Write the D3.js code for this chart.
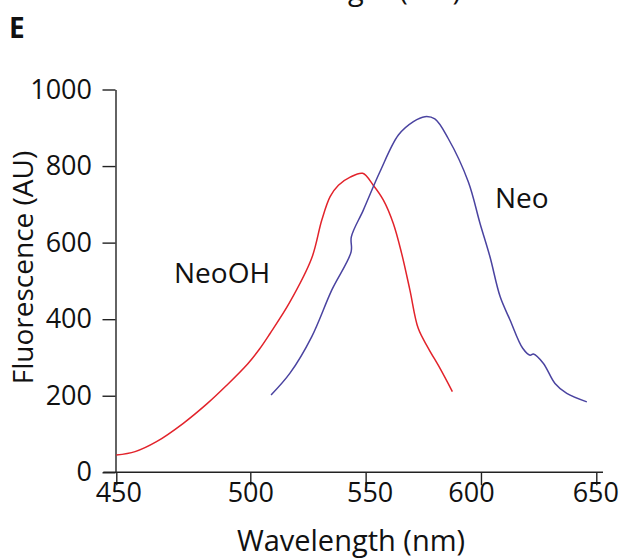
<!DOCTYPE html>
<html>
<head>
<meta charset="utf-8">
<script src="https://cdn.jsdelivr.net/npm/d3@7"></script>
<style>
  html, body { margin: 0; padding: 0; background: #fff; }
  svg { display: block; }
  text { font-family: "Open Sans", "Noto Sans", sans-serif; fill: #111; }
</style>
</head>
<body>
<svg id="chart" width="624" height="560"></svg>
<script>
// ---- data ----
const xTicks = [450, 500, 550, 600, 650];
const yTicks = [0, 200, 400, 600, 800, 1000];

const neoOHWavelength = [450, 457, 465, 475, 484, 491, 499, 504, 508.5, 517, 526.6, 531, 534.6, 538.2, 543.3, 548.7, 553.3, 557.7, 562, 565.6, 569.2, 572.8, 577.2, 582.2, 587.6];
const neoOHFluor      = [45, 54, 80, 128, 180, 226, 283, 322, 362, 443, 559, 659, 720, 750, 771, 781, 750, 711, 650, 572, 476, 376, 324, 272, 211];

const neoWavelength = [509, 517.2, 526.6, 535.3, 543.7, 543.8, 549, 556.2, 564.2, 570.7, 575.7, 580, 585.8, 594.5, 599.6, 603.9, 608.3, 612.6, 618.1, 621.3, 622.7, 627, 632.1, 637.2, 645.9];
const neoFluor      = [202, 259, 354, 476, 576, 615, 685, 785, 881, 916, 929, 923, 872, 759, 650, 563, 459, 398, 324, 306, 309, 285, 232, 206, 184];

const seriesNames = ["NeoOH", "Neo"];

// ---- layout ----
const svg = d3.select("#chart");
const axisColor = "#222";
const tickLen = 13;

// the printed axis is slightly non-uniform between 450 and 500
const x = d3.scaleLinear().domain([450, 500, 650]).range([116.3, 250.3, 596.3]);
const y = d3.scaleLinear().domain([0, 1000]).range([472.3, 89.5]);

// panel letter
svg.append("text").attr("x", 9).attr("y", 38)
  .style("font-weight", "bold").style("font-size", "28px").text("E");

// cut-off title of previous panel (as in the reference)
svg.append("text").attr("x", 347).attr("y", 0).attr("text-anchor", "middle")
  .style("font-size", "29px").text("Wavelength (nm)");

// y axis
const yAxis = svg.append("g").attr("transform", `translate(${x(450) - 0.8},0)`)
  .call(d3.axisLeft(y).tickValues(yTicks).tickFormat(d3.format("d"))
    .tickSize(tickLen).tickSizeOuter(0).tickPadding(10.5));
yAxis.select(".domain").attr("stroke", axisColor).attr("stroke-width", 1.4);
yAxis.selectAll(".tick line").attr("stroke", axisColor).attr("stroke-width", 1.4);
yAxis.selectAll(".tick text").style("font-size", "27px").attr("fill", "#111")
  .style("font-family", '"Open Sans", sans-serif');

// x axis
const labelNudge = {450: 2, 500: 0, 550: 4, 600: -10, 650: -1};
const xAxis = svg.append("g").attr("transform", `translate(0,${y(0)})`)
  .call(d3.axisBottom(x).tickValues(xTicks).tickFormat(d3.format("d"))
    .tickSize(tickLen).tickSizeOuter(0));
xAxis.select(".domain").remove();
xAxis.selectAll(".tick line").attr("stroke", axisColor).attr("stroke-width", 1.4);
xAxis.selectAll(".tick text").style("font-size", "27px").attr("fill", "#111")
  .style("font-family", '"Open Sans", sans-serif')
  .attr("y", 11).attr("dy", "0.71em")
  .attr("dx", d => labelNudge[d]);
svg.append("line")
  .attr("x1", x(450) - tickLen).attr("x2", x(652.9))
  .attr("y1", y(0)).attr("y2", y(0))
  .attr("stroke", axisColor).attr("stroke-width", 1.4);

// axis titles
svg.append("text").attr("x", 351).attr("y", 551).attr("text-anchor", "middle")
  .style("font-size", "29px").text("Wavelength (nm)");
svg.append("text").attr("transform", "translate(33,267.5) rotate(-90)")
  .attr("text-anchor", "middle").style("font-size", "28px").text("Fluorescence (AU)");

// lines
const line = d3.line().x(d => x(d[0])).y(d => y(d[1])).curve(d3.curveCatmullRom.alpha(0.5));
const neoOH = d3.zip(neoOHWavelength, neoOHFluor);
const neo = d3.zip(neoWavelength, neoFluor);

svg.append("path").datum(neoOH).attr("d", line)
  .attr("fill", "none").attr("stroke", "#e2232b").attr("stroke-width", 1.5)
  .attr("stroke-linejoin", "round");
svg.append("path").datum(neo).attr("d", line)
  .attr("fill", "none").attr("stroke", "#4a43a0").attr("stroke-width", 1.5)
  .attr("stroke-linejoin", "round");

// series labels
svg.append("text").attr("x", 174).attr("y", 283).style("font-size", "28px").text(seriesNames[0]);
svg.append("text").attr("x", 495).attr("y", 208).style("font-size", "28px").text(seriesNames[1]);
</script>
</body>
</html>
